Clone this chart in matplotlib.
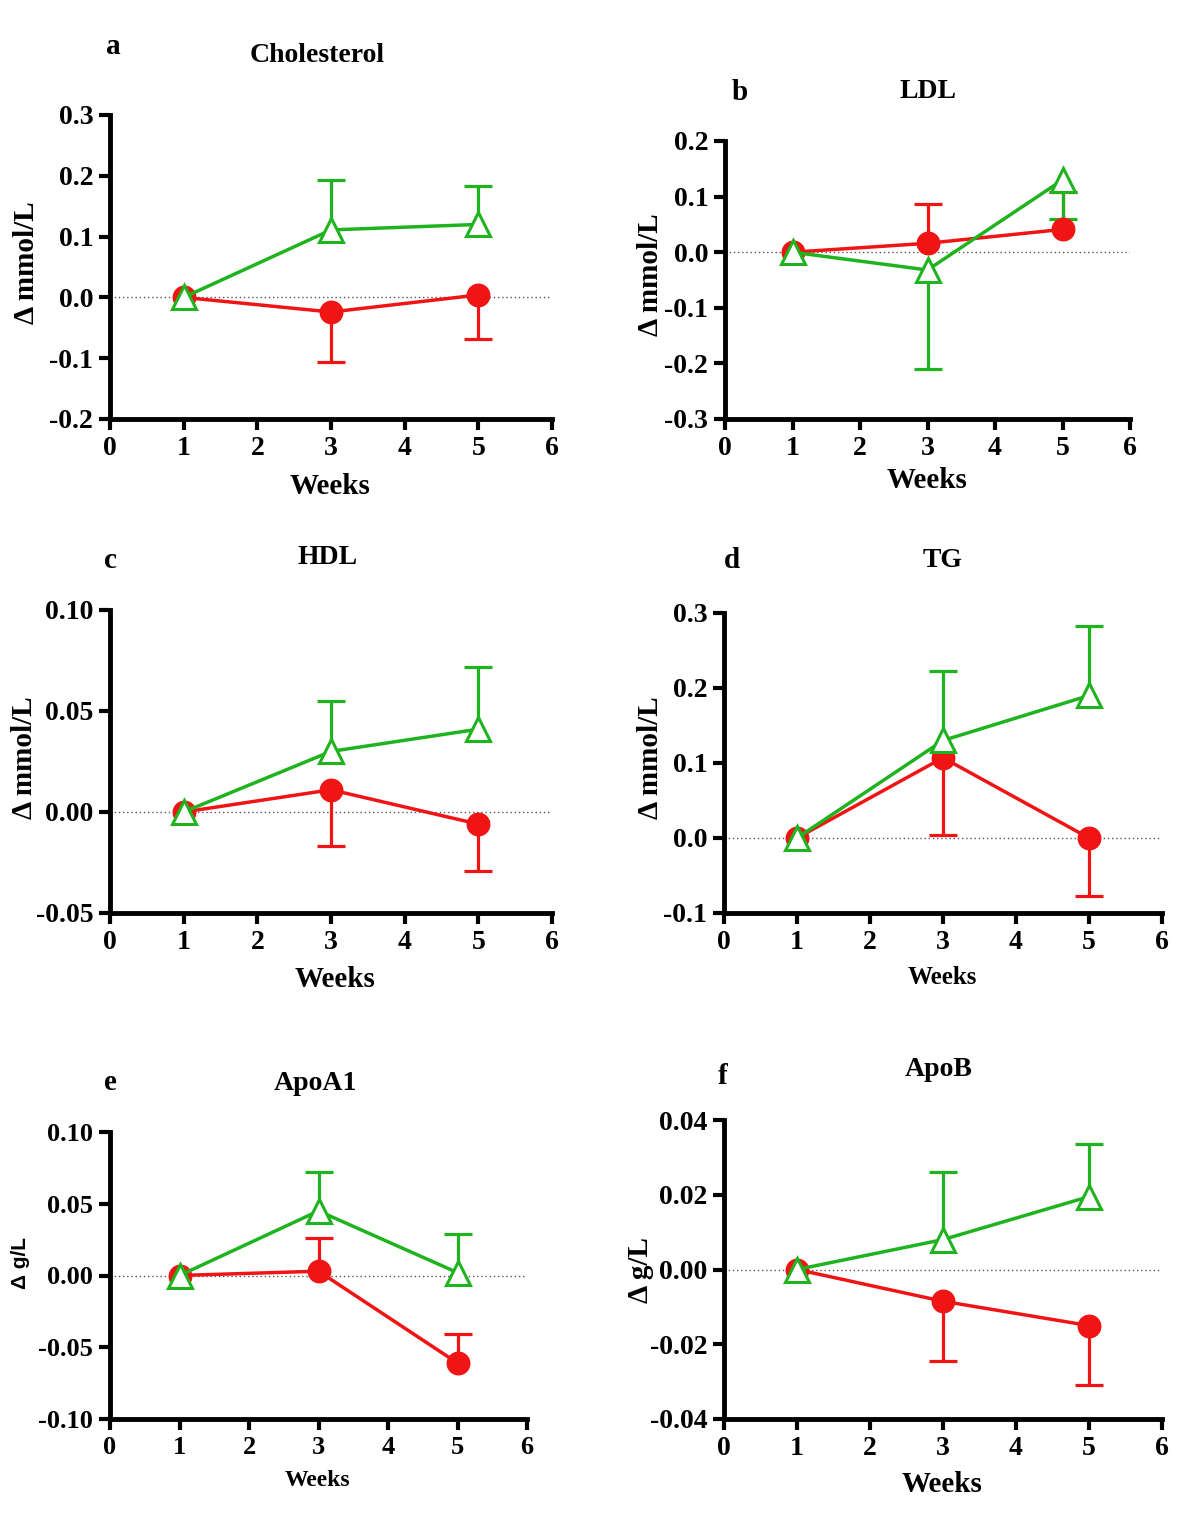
import numpy as np
import matplotlib
matplotlib.use("Agg")
import matplotlib.pyplot as plt

plt.rcParams['font.family'] = ['Liberation Serif', 'DejaVu Serif']
plt.rcParams['font.weight'] = 'bold'

W, H = 1200, 1523
RED = '#f01414'
GREEN = '#1fb41f'

weeks = [1, 3, 5]

# mean change, lower error, upper error for each group
chol_red = [0.0, -0.024, 0.004]
chol_red_lo = [0, 0.082, 0.072]
chol_red_hi = [0, 0, 0]
chol_green = [0.0, 0.111, 0.120]
chol_green_lo = [0, 0, 0]
chol_green_hi = [0, 0.082, 0.064]

ldl_red = [0.0, 0.016, 0.041]
ldl_red_lo = [0, 0, 0]
ldl_red_hi = [0, 0.071, 0.067]
ldl_green = [0.0, -0.032, 0.130]
ldl_green_lo = [0, 0.178, 0.070]
ldl_green_hi = [0, 0, 0]

hdl_red = [0.0, 0.011, -0.006]
hdl_red_lo = [0, 0.028, 0.023]
hdl_red_hi = [0, 0, 0]
hdl_green = [0.0, 0.030, 0.041]
hdl_green_lo = [0, 0, 0]
hdl_green_hi = [0, 0.025, 0.031]

tg_red = [0.0, 0.107, 0.0]
tg_red_lo = [0, 0.103, 0.077]
tg_red_hi = [0, 0, 0]
tg_green = [0.0, 0.130, 0.190]
tg_green_lo = [0, 0, 0]
tg_green_hi = [0, 0.093, 0.093]

apoa_red = [0.0, 0.003, -0.061]
apoa_red_lo = [0, 0, 0]
apoa_red_hi = [0, 0.023, 0.020]
apoa_green = [0.0, 0.045, 0.002]
apoa_green_lo = [0, 0, 0]
apoa_green_hi = [0, 0.027, 0.027]

apob_red = [0.0, -0.0085, -0.015]
apob_red_lo = [0, 0.016, 0.016]
apob_red_hi = [0, 0, 0]
apob_green = [0.0, 0.008, 0.0195]
apob_green_lo = [0, 0, 0]
apob_green_hi = [0, 0.018, 0.014]

fig = plt.figure(figsize=(W / 100, H / 100), dpi=100)


def panel(box, ylim, yticks, ytl, red, rlo, rhi, green, glo, ghi,
          letter, lpos, title, tpos, ylab, ylpos, xlpos, xlsize=21,
          ylfont=None, ylsize=21, ticksize=20):
    x0, y0, x1, y1 = box
    ax = fig.add_axes([x0 / W, 1 - y1 / H, (x1 - x0) / W, (y1 - y0) / H])
    ax.set_xlim(0, 6)
    ax.set_ylim(*ylim)
    ax.axhline(0, color='#555555', ls=(0, (1, 2)), lw=1, zorder=1)

    x = np.array(weeks)
    for mean, lo, hi, col, mk, fc in [(red, rlo, rhi, RED, 'o', RED),
                                      (green, glo, ghi, GREEN, '^', 'white')]:
        mean = np.array(mean)
        lo = np.array(lo)
        hi = np.array(hi)
        # one-sided error bars: a stem and a single cap
        m = (lo + hi) > 0
        ends = np.where(hi > 0, mean + hi, mean - lo)
        ax.vlines(x[m], mean[m], ends[m], color=col, lw=2.3, zorder=2)
        ax.plot(x[m], ends[m], ls='none', marker='_', ms=20, mew=2.3, color=col,
                zorder=2, clip_on=False)
        ax.plot(x, mean, color=col, lw=2.5, marker=mk, ms=15 if mk == 'o' else 17,
                mfc=fc, mec=col, mew=2.2, zorder=3, clip_on=False)

    for s in ['top', 'right']:
        ax.spines[s].set_visible(False)
    for s in ['left', 'bottom']:
        ax.spines[s].set_linewidth(3.5)
    ax.tick_params(direction='out', length=8, width=3, labelsize=ticksize, pad=4)
    ax.set_xticks(range(7))
    ax.set_yticks(yticks)
    ax.set_yticklabels(ytl)
    for t in ax.get_xticklabels() + ax.get_yticklabels():
        t.set_fontweight('bold')

    fig.text(lpos[0] / W, 1 - lpos[1] / H, letter, fontsize=21, fontweight='bold',
             ha='center', va='center')
    fig.text(tpos[0] / W, 1 - tpos[1] / H, title, fontsize=20, fontweight='bold',
             ha='center', va='center')
    fig.text(xlpos[0] / W, 1 - xlpos[1] / H, 'Weeks', fontsize=xlsize,
             fontweight='bold', ha='center', va='center')
    kw = {}
    if ylfont:
        kw['family'] = ylfont
    fig.text(ylpos[0] / W, 1 - ylpos[1] / H, ylab, fontsize=ylsize,
             fontweight='bold', ha='center', va='center', rotation=90, **kw)
    return ax


panel((110, 115, 552, 419), (-0.2, 0.3), [-0.2, -0.1, 0, 0.1, 0.2, 0.3],
      ['-0.2', '-0.1', '0.0', '0.1', '0.2', '0.3'],
      chol_red, chol_red_lo, chol_red_hi, chol_green, chol_green_lo, chol_green_hi,
      'a', (113, 47), 'Cholesterol', (317, 56), '\u0394 mmol/L', (26, 263), (330, 486))

panel((725, 141, 1130, 419), (-0.3, 0.2), [-0.3, -0.2, -0.1, 0, 0.1, 0.2],
      ['-0.3', '-0.2', '-0.1', '0.0', '0.1', '0.2'],
      ldl_red, ldl_red_lo, ldl_red_hi, ldl_green, ldl_green_lo, ldl_green_hi,
      'b', (740, 92), 'LDL', (928, 92), '\u0394 mmol/L', (650, 275), (927, 480))

panel((110, 610, 552, 913), (-0.05, 0.10), [-0.05, 0, 0.05, 0.10],
      ['-0.05', '0.00', '0.05', '0.10'],
      hdl_red, hdl_red_lo, hdl_red_hi, hdl_green, hdl_green_lo, hdl_green_hi,
      'c', (110, 560), 'HDL', (328, 557), '\u0394 mmol/L', (25, 758), (335, 979))

panel((724, 613, 1162, 913), (-0.1, 0.3), [-0.1, 0, 0.1, 0.2, 0.3],
      ['-0.1', '0.0', '0.1', '0.2', '0.3'],
      tg_red, tg_red_lo, tg_red_hi, tg_green, tg_green_lo, tg_green_hi,
      'd', (732, 560), 'TG', (943, 560), '\u0394 mmol/L', (651, 758), (942, 977),
      xlsize=18)

panel((110, 1132, 527, 1419), (-0.10, 0.10), [-0.10, -0.05, 0, 0.05, 0.10],
      ['-0.10', '-0.05', '0.00', '0.05', '0.10'],
      apoa_red, apoa_red_lo, apoa_red_hi, apoa_green, apoa_green_lo, apoa_green_hi,
      'e', (110, 1082), 'ApoA1', (315, 1083), '\u0394 g/L', (21, 1263), (317, 1480),
      xlsize=17, ylfont=['Liberation Sans', 'DejaVu Sans'], ylsize=15, ticksize=19)

panel((724, 1120, 1162, 1419), (-0.04, 0.04), [-0.04, -0.02, 0, 0.02, 0.04],
      ['-0.04', '-0.02', '0.00', '0.02', '0.04'],
      apob_red, apob_red_lo, apob_red_hi, apob_green, apob_green_lo, apob_green_hi,
      'f', (723, 1077), 'ApoB', (939, 1069), '\u0394 g/L', (641, 1270), (942, 1485))

fig.savefig('out.png', dpi=100)
